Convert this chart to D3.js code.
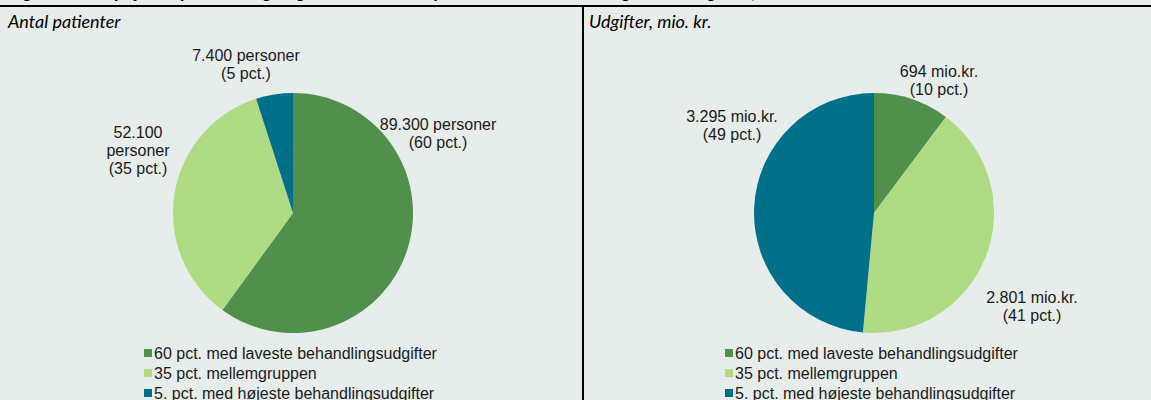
<!DOCTYPE html>
<html>
<head>
<meta charset="utf-8">
<script src="https://cdn.jsdelivr.net/npm/d3@7"></script>
<style>
  html, body { margin: 0; padding: 0; background: #e7edea; }
  svg { display: block; }
</style>
</head>
<body>
<div id="chart"></div>
<script>
// data
const categories = ["60 pct. med laveste behandlingsudgifter", "35 pct. mellemgruppen", "5. pct. med højeste behandlingsudgifter"]
const patientValues = [89300, 52100, 7400]
const patientLabels = [["89.300 personer", "(60 pct.)"], ["52.100", "personer", "(35 pct.)"], ["7.400 personer", "(5 pct.)"]]
const costValues = [694, 2801, 3295]
const costLabels = [["694 mio.kr.", "(10 pct.)"], ["2.801 mio.kr.", "(41 pct.)"], ["3.295 mio.kr.", "(49 pct.)"]]
const panelTitles = ["Antal patienter", "Udgifter, mio. kr."]
const figureTitle = "Figur 1. Antal psykiatripatienter og udgifter fordelt efter patienternes samlede udgifter i kategorier, 2016"

const colors = d3.scaleOrdinal().domain(categories).range(["#518f4d", "#afdb85", "#03708a"])

const width = 1151
const height = 400
const font = "'Liberation Sans', Arial, sans-serif"

const svg = d3.select("#chart")
  .append("svg")
    .attr("width", width)
    .attr("height", height)

svg.append("rect")
    .attr("width", width)
    .attr("height", height)
    .attr("fill", "#e7edea")

// title, mostly cut off at the top of the picture
svg.append("text")
    .attr("x", 8)
    .attr("y", -2)
    .attr("font-family", font)
    .attr("font-weight", "bold")
    .attr("font-size", 16)
    .attr("fill", "#000")
    .text(figureTitle)

// frame lines
svg.append("line")
    .attr("x1", 0).attr("x2", width)
    .attr("y1", 6).attr("y2", 6)
    .attr("stroke", "#000").attr("stroke-width", 2.2)
svg.append("line")
    .attr("x1", 583).attr("x2", 583)
    .attr("y1", 6).attr("y2", height)
    .attr("stroke", "#000").attr("stroke-width", 2)

// one panel = subtitle, pie, labels, legend
function drawPanel(opts) {
    const g = svg.append("g")

    g.append("text")
        .attr("x", opts.titleX)
        .attr("y", 28)
        .attr("font-family", "Lato, 'Open Sans', sans-serif")
        .attr("font-style", "italic")
        .attr("font-size", 18)
        .attr("fill", "#000")
        .text(opts.title)

    const pie = d3.pie().sort(null).value(d => d.value)
    const arcs = pie(opts.values.map((v, i) => ({ key: categories[i], value: v })))
    const arc = d3.arc().innerRadius(0).outerRadius(120)

    const pieG = g.append("g")
        .attr("transform", `translate(${opts.cx},${opts.cy})`)

    pieG.selectAll("path")
        .data(arcs)
        .join("path")
        .attr("d", arc)
        .attr("fill", d => colors(d.data.key))

    // data labels
    opts.labels.forEach((lines, i) => {
        const t = g.append("text")
            .attr("x", opts.labelPos[i][0])
            .attr("y", opts.labelPos[i][1])
            .attr("text-anchor", "middle")
            .attr("font-family", font)
            .attr("font-size", 16)
            .attr("fill", "#1a1a1a")
        lines.forEach((line, j) => {
            t.append("tspan")
                .attr("x", opts.labelPos[i][0])
                .attr("dy", j == 0 ? 0 : 18)
                .text(line)
        })
    })

    // legend
    const legend = g.append("g")
        .attr("transform", `translate(${opts.legendX},353)`)
    const rows = legend.selectAll("g")
        .data(categories)
        .join("g")
        .attr("transform", (d, i) => `translate(0,${i * 20})`)
    rows.append("rect")
        .attr("x", 0).attr("y", -4)
        .attr("width", 8).attr("height", 8)
        .attr("fill", d => colors(d))
    rows.append("text")
        .attr("x", 10)
        .attr("y", 6)
        .attr("font-family", font)
        .attr("font-size", 16)
        .attr("fill", "#1a1a1a")
        .text(d => d)
}

drawPanel({
    title: panelTitles[0], titleX: 8,
    values: patientValues, labels: patientLabels,
    cx: 293, cy: 213,
    labelPos: [[438, 130], [138, 138], [246, 61]],
    legendX: 144
})

drawPanel({
    title: panelTitles[1], titleX: 589,
    values: costValues, labels: costLabels,
    cx: 874, cy: 213,
    labelPos: [[939, 77], [1032, 303], [732, 122]],
    legendX: 725
})
</script>
</body>
</html>
